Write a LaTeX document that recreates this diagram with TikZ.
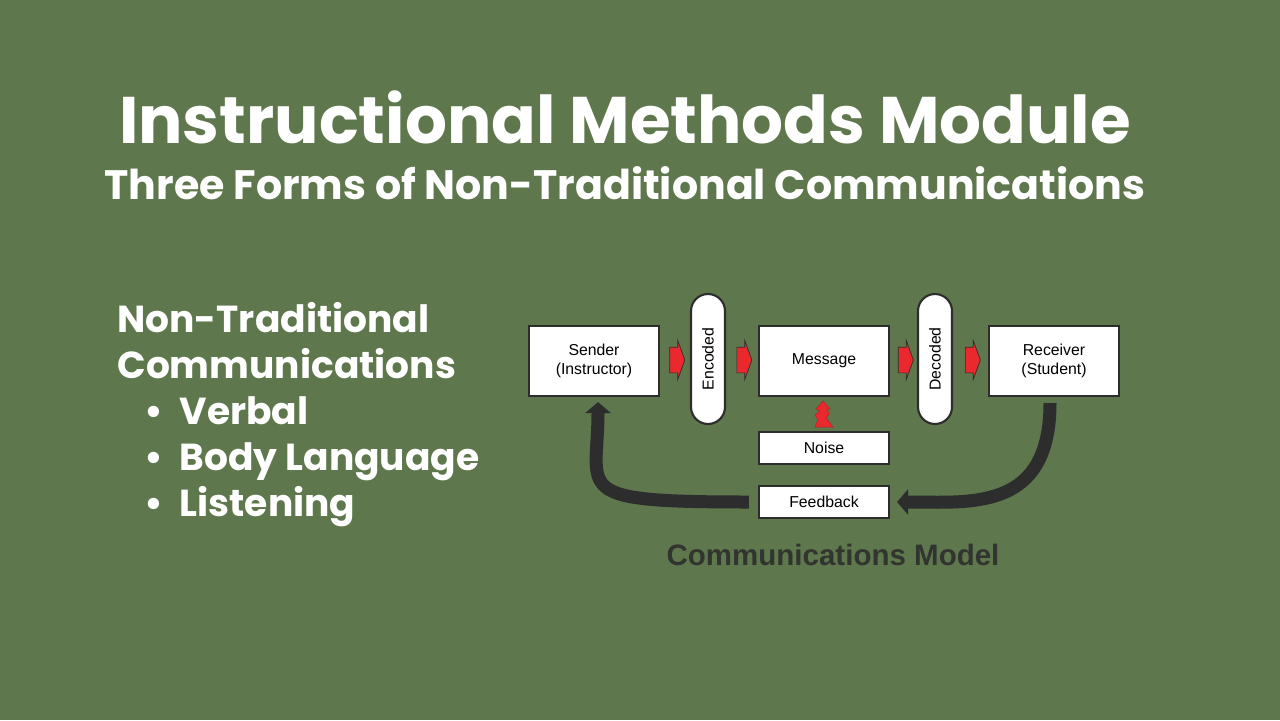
\documentclass[tikz,border=0pt]{standalone}
\usepackage{fontspec}
\setmainfont{Liberation Sans}
\newfontfamily\headfont{Poppins}
\usepackage{tikz}
\usetikzlibrary{shapes.arrows, arrows.meta, positioning, calc}
\definecolor{slidegreen}{RGB}{94,119,76}
\definecolor{boxline}{RGB}{45,45,45}
\definecolor{flowred}{RGB}{235,40,45}
\definecolor{loopgray}{RGB}{45,45,45}
\definecolor{captiongray}{RGB}{50,52,48}
\tikzset{
  %% ---- boxes ----
  block/.style  = {rectangle, draw=boxline, line width=1.2pt,
                   fill=white, minimum width=2.6cm, minimum height=1.4cm,
                   align=center, font=\fontsize{9}{11}\selectfont, inner sep=0pt},
  smallblock/.style = {block, minimum height=0.64cm},
  pill/.style   = {rectangle, rounded corners=0.34cm, draw=boxline,
                   line width=1.2pt, fill=white, minimum width=0.68cm,
                   minimum height=2.6cm, inner sep=0pt},
  %% ---- arrows ----
  redarrow/.style = {single arrow, draw=boxline, line width=0.4pt,
                   fill=flowred, minimum height=0.3cm,
                   single arrow head extend=0.13cm, single arrow tip angle=140,
                   inner xsep=0pt, inner ysep=0.25cm},
  looparrow/.style = {-{Triangle[length=0.22cm, width=0.5cm]},
                   line width=0.26cm, color=loopgray},
  headline/.style = {text=white, font=\headfont\bfseries#1},
}

\begin{document}
\begin{tikzpicture}[x=0.02cm, y=-0.02cm]
  \useasboundingbox[fill=slidegreen] (0,0) rectangle (1280,720);

  %% headings
  \node[headline=\fontsize{37.5}{44}\selectfont] (title) at (625,117)
    {Instructional Methods Module};
  \node[headline=\fontsize{23.4}{28}\selectfont] (subtitle) at (625,183)
    {Three Forms of Non-Traditional Communications};

  %% list on the left
  \node[headline=\fontsize{21.4}{26.2}\selectfont, anchor=north west, align=left,
    inner sep=0pt] (list) at (117,302)
    {Non-Traditional\\
     Communications\\
     \hspace{0.55cm}\textbullet\hspace{0.32cm}Verbal\\
     \hspace{0.55cm}\textbullet\hspace{0.32cm}Body Language\\
     \hspace{0.55cm}\textbullet\hspace{0.32cm}Listening};

  %% communications model
  \node[block] (sender) at (594,361) {Sender\\(Instructor)};
  \node[pill] (enc) at (708,359) {\rotatebox{90}{\fontsize{9}{11}\selectfont Encoded}};
  \node[block] (msg) at (824,361) {Message};
  \node[pill] (dec) at (935,359) {\rotatebox{90}{\fontsize{9}{11}\selectfont Decoded}};
  \node[block] (rcv) at (1054,361) {Receiver\\(Student)};
  \node[smallblock] (noise) at (824,448) {Noise};
  \node[smallblock] (fb) at (824,502) {Feedback};

  \foreach \a/\b in {sender/enc, enc/msg, msg/dec, dec/rcv}
    \node[redarrow] at ($(\a.east)!0.5!(\b.west)$) {};

  %% jagged noise arrow
  \coordinate (nz) at ($(noise.north)!0.5!(msg.south)$);
  \filldraw[fill=flowred, draw=flowred!80!black, line width=0.3pt]
    ($(nz)+(-1,-13)$) -- ($(nz)+(6,-5)$) -- ($(nz)+(3,-5)$) -- ($(nz)+(5,0)$)
    -- ($(nz)+(2,4)$) -- ($(nz)+(9,13)$) -- ($(nz)+(-9,13)$) -- ($(nz)+(-6,6)$)
    -- ($(nz)+(-9,1)$) -- ($(nz)+(-4,-3)$) -- ($(nz)+(-8,-5)$) -- cycle;

  %% feedback loop
  \draw[looparrow] ($(rcv.south)+(-4,6)$)
    .. controls ($(rcv.south)+(-4,115)$) and ($(fb.east)+(80,0)$) .. ($(fb.east)+(7,0)$);
  \draw[looparrow] ($(fb.west)+(-9,0)$)
    .. controls ($(fb.west)+(-190,0)$) and ($(sender.south)+(4,95)$) .. ($(sender.south)+(4,5)$);

  \node[text=captiongray, font=\fontsize{16.8}{20}\selectfont\bfseries]
    (caption) at (833,555) {Communications Model};
\end{tikzpicture}
\end{document}
